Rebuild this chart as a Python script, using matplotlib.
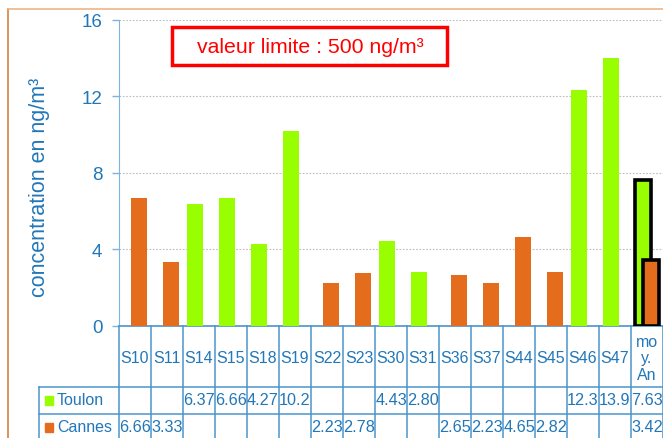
import numpy as np
import matplotlib
matplotlib.use('Agg')
from matplotlib import pyplot as plt
from matplotlib.patches import Rectangle
import matplotlib.transforms as mtransforms

plt.rcParams['font.family'] = ['Liberation Sans', 'DejaVu Sans']

categories = ['S10', 'S11', 'S14', 'S15', 'S18', 'S19', 'S22', 'S23', 'S30',
              'S31', 'S36', 'S37', 'S44', 'S45', 'S46', 'S47', 'mo\ny.\nAn']
toulon = [None, None, 6.37, 6.66, 4.27, 10.2, None, None, 4.43,
          2.80, None, None, None, None, 12.3, 13.97, 7.63]
cannes = [6.66, 3.33, None, None, None, None, 2.23, 2.78, None,
          None, 2.65, 2.23, 4.65, 2.82, None, None, 3.42]
toulon_labels = ['', '', '6.37', '6.66', '4.27', '10.2', '', '', '4.43',
                 '2.80', '', '', '', '', '12.3', '13.9', '7.63']
cannes_labels = ['6.66', '3.33', '', '', '', '', '2.23', '2.78', '',
                 '', '2.65', '2.23', '4.65', '2.82', '', '', '3.42']
series_names = ['Toulon', 'Cannes']

green = '#99ff00'
orange = '#e36c1d'
blue = '#2277b8'
line_blue = '#4a94cc'

W, H = 663, 439
fig = plt.figure(figsize=(W / 100, H / 100), dpi=100)
# axes placed in pixels: left spine x=119, top y=20.5, zero line y=327
ax = fig.add_axes([119 / W, (H - 327) / H, (W - 119) / W, (327 - 20.5) / H])

x = np.arange(len(categories))
t = np.array([np.nan if v is None else v for v in toulon])
c = np.array([np.nan if v is None else v for v in cannes])
bw = 0.5
off = 0.13
edge_t = ['black' if i == len(x) - 1 else 'none' for i in x]
lw_t = [2.6 if i == len(x) - 1 else 0 for i in x]
ax.bar(x - off, t, bw, color=green, edgecolor=edge_t, linewidth=lw_t, zorder=3)
ax.bar(x + off, c, bw, color=orange, edgecolor=edge_t, linewidth=lw_t, zorder=4)

ax.set_xlim(-0.5, len(categories) - 0.5)
ax.set_ylim(0, 16)
ax.set_yticks([0, 4, 8, 12, 16])
ax.tick_params(axis='y', colors='#7fb2dc', labelcolor=blue, labelsize=13.5,
               length=5, width=1, pad=7)
ax.set_xticks([])
for s in ['top', 'right']:
    ax.spines[s].set_visible(False)
ax.spines['left'].set_color('#7fb2dc')
ax.spines['bottom'].set_color(line_blue)
ax.spines['bottom'].set_linewidth(1.2)
ax.grid(axis='y', color='#bdbdbd', linestyle=(0, (1.5, 1.5)), linewidth=0.8, zorder=0)
ax.set_axisbelow(True)

ax.set_ylabel('concentration en ng/m³', color=blue, fontsize=15.5)
ax.yaxis.set_label_coords(-0.127, 0.455)

# limit value box
ax.add_patch(Rectangle((0.0974, 0.8515), 0.5056, 0.124, transform=ax.transAxes,
                       fill=False, edgecolor='#ff0000', linewidth=2.5, zorder=5))
ax.text(0.351, 0.9135, 'valeur limite : 500 ng/m³', transform=ax.transAxes,
        color='#ff0000', fontsize=15.3, ha='center', va='center', zorder=6)

# data table under the axis
tr = mtransforms.blended_transform_factory(ax.transData, ax.transAxes)
px = 1 / 306.5
y_row1 = -(388 - 327) * px
y_row2 = -(415 - 327) * px
y_bot = -0.45
tbl_left = -3.0
kw = dict(transform=tr, clip_on=False, color=line_blue, linewidth=1.1)
for b in np.arange(len(categories) + 1) - 0.5:
    ax.plot([b, b], [0, y_bot], **kw)
ax.plot([tbl_left, tbl_left], [y_row1, y_bot], **kw)
ax.plot([tbl_left, len(categories) - 0.5], [y_row1, y_row1], **kw)
ax.plot([tbl_left, len(categories) - 0.5], [y_row2, y_row2], **kw)

for i, lab in enumerate(categories):
    ax.text(i, -(359 - 327) * px, lab, transform=tr, ha='center', va='center',
            color=blue, fontsize=11.5, linespacing=1.15)
row_y = [-(401 - 327) * px, -(428 - 327) * px]
for ry, labels, col, name in zip(row_y, [toulon_labels, cannes_labels],
                                 [green, orange], series_names):
    for i, lab in enumerate(labels):
        ax.text(i, ry, lab, transform=tr, ha='center', va='center',
                color=blue, fontsize=11.7)
    ax.add_patch(Rectangle((tbl_left + 6 / 32, ry - 4.5 * px), 8 / 32, 9 * px,
                           transform=tr, clip_on=False, color=col))
    ax.text(tbl_left + 18 / 32, ry, name, transform=tr, ha='left', va='center',
            color=blue, fontsize=11.5)

# chart frame (cropped)
fig.add_artist(plt.Line2D([7.5 / W, 7.5 / W], [0, (H - 10) / H], color='#d4813f', linewidth=1.2))
fig.add_artist(plt.Line2D([7.5 / W, 1], [(H - 10) / H, (H - 10) / H], color='#f0b484', linewidth=1.2))

fig.savefig('out.png', dpi=100)
